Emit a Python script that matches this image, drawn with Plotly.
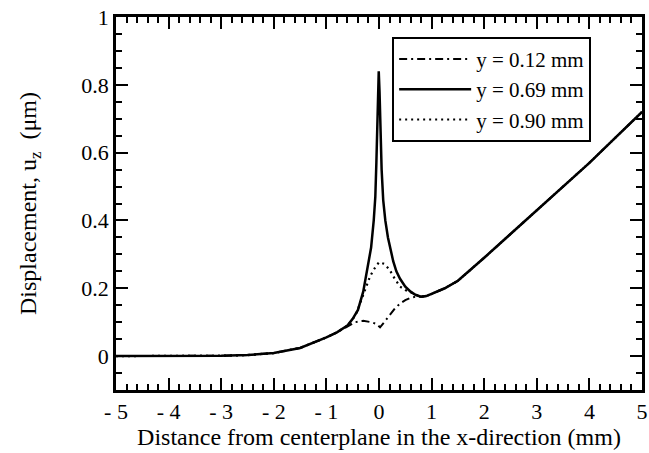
import plotly.graph_objects as go

# Data
x_069 = [-5, -4, -3, -2.5, -2, -1.5, -1, -0.8, -0.6, -0.5, -0.4, -0.3, -0.2, -0.15, -0.1,
         -0.07, -0.05, -0.03, -0.015, -0.005, 0.01, 0.03, 0.05, 0.08, 0.12, 0.17, 0.22, 0.27,
         0.33, 0.4, 0.5, 0.6, 0.7, 0.8, 0.9, 1.0, 1.25, 1.5, 1.75, 2.0, 2.5, 3.0, 3.5, 4.0,
         4.5, 5.0]
y_069 = [0, 0, 0.001, 0.003, 0.009, 0.024, 0.055, 0.07, 0.09, 0.11, 0.136, 0.19, 0.27, 0.32,
         0.40, 0.47, 0.57, 0.67, 0.78, 0.84, 0.78, 0.65, 0.55, 0.46, 0.40, 0.35, 0.315, 0.28,
         0.25, 0.228, 0.205, 0.19, 0.18, 0.175, 0.177, 0.183, 0.2, 0.222, 0.255, 0.29, 0.36,
         0.43, 0.5, 0.57, 0.645, 0.72]

x_090 = [-5, -4, -3, -2.5, -2, -1.5, -1, -0.8, -0.6, -0.5, -0.42, -0.32, -0.23, -0.17, -0.1,
         0.0, 0.1, 0.2, 0.3, 0.4, 0.5, 0.6, 0.7, 0.8, 0.9, 1.0, 1.25, 1.5, 1.75, 2.0, 2.5,
         3.0, 3.5, 4.0, 4.5, 5.0]
y_090 = [0, 0, 0.001, 0.003, 0.009, 0.024, 0.055, 0.07, 0.09, 0.108, 0.13, 0.172, 0.21, 0.235,
         0.255, 0.277, 0.272, 0.255, 0.228, 0.205, 0.195, 0.188, 0.18, 0.175, 0.177, 0.183,
         0.2, 0.222, 0.255, 0.29, 0.36, 0.43, 0.5, 0.57, 0.645, 0.72]

x_012 = [-5, -4, -3, -2.5, -2, -1.5, -1, -0.8, -0.6, -0.45, -0.3, -0.15, -0.05, 0.02, 0.1,
         0.2, 0.3, 0.4, 0.5, 0.6, 0.7, 0.8, 0.9, 1.0, 1.25, 1.5, 1.75, 2.0, 2.5, 3.0, 3.5,
         4.0, 4.5, 5.0]
y_012 = [0, 0, 0.001, 0.003, 0.009, 0.024, 0.055, 0.07, 0.088, 0.1, 0.104, 0.1, 0.095, 0.085,
         0.1, 0.12, 0.14, 0.155, 0.165, 0.172, 0.175, 0.175, 0.177, 0.183, 0.2, 0.222, 0.255,
         0.29, 0.36, 0.43, 0.5, 0.57, 0.645, 0.72]

x_tickvals = [-5, -4, -3, -2, -1, 0, 1, 2, 3, 4, 5]
x_ticktext = ["- 5", "- 4", "- 3", "- 2", "- 1", "0", "1", "2", "3", "4", "5"]
y_tickvals = [0, 0.2, 0.4, 0.6, 0.8, 1]
y_ticktext = ["0", "0.2", "0.4", "0.6", "0.8", "1"]

FONT = "Liberation Serif, Times New Roman, serif"

fig = go.Figure()
fig.add_trace(go.Scatter(x=x_012, y=y_012, mode="lines", name="y = 0.12 mm",
                         line=dict(color="black", width=2, dash="8px,4px,2px,4px")))
fig.add_trace(go.Scatter(x=x_069, y=y_069, mode="lines", name="y = 0.69 mm",
                         line=dict(color="black", width=2.5)))
fig.add_trace(go.Scatter(x=x_090, y=y_090, mode="lines", name="y = 0.90 mm",
                         line=dict(color="black", width=2.2, dash="2px,4px")))

axis_common = dict(showgrid=False, zeroline=False, showline=True, linecolor="black",
                   linewidth=2.5, mirror="ticks", ticks="inside", tickcolor="black",
                   tickwidth=2, ticklen=12, automargin=False,
                   tickfont=dict(family=FONT, size=22, color="black"))

fig.update_xaxes(range=[-5, 5], tickvals=x_tickvals, ticktext=x_ticktext,
                 minor=dict(dtick=0.2, tick0=0, ticks="inside", ticklen=6,
                            tickwidth=1.5, tickcolor="black"),
                 title=dict(text="Distance from centerplane in the x-direction (mm)",
                            font=dict(family=FONT, size=24, color="black"), standoff=0),
                 **axis_common)
fig.update_yaxes(range=[-0.1, 1], tickvals=y_tickvals, ticktext=y_ticktext,
                 minor=dict(dtick=0.05, tick0=0, ticks="inside", ticklen=6,
                            tickwidth=1.5, tickcolor="black"),
                 title=dict(text="Displacement, u<sub>z</sub>  (μm)",
                            font=dict(family=FONT, size=24, color="black"), standoff=38),
                 **axis_common)

fig.update_layout(
    width=649, height=453,
    margin=dict(l=116, r=7, t=17, b=63),
    paper_bgcolor="white", plot_bgcolor="white",
    font=dict(family=FONT, size=22, color="black"),
    showlegend=True,
    legend=dict(x=0.525, y=0.947, xanchor="left", yanchor="top",
                bordercolor="black", borderwidth=2, bgcolor="white",
                font=dict(family=FONT, size=21, color="black"),
                itemwidth=72, tracegroupgap=0),
)

fig.write_html("out.html")
